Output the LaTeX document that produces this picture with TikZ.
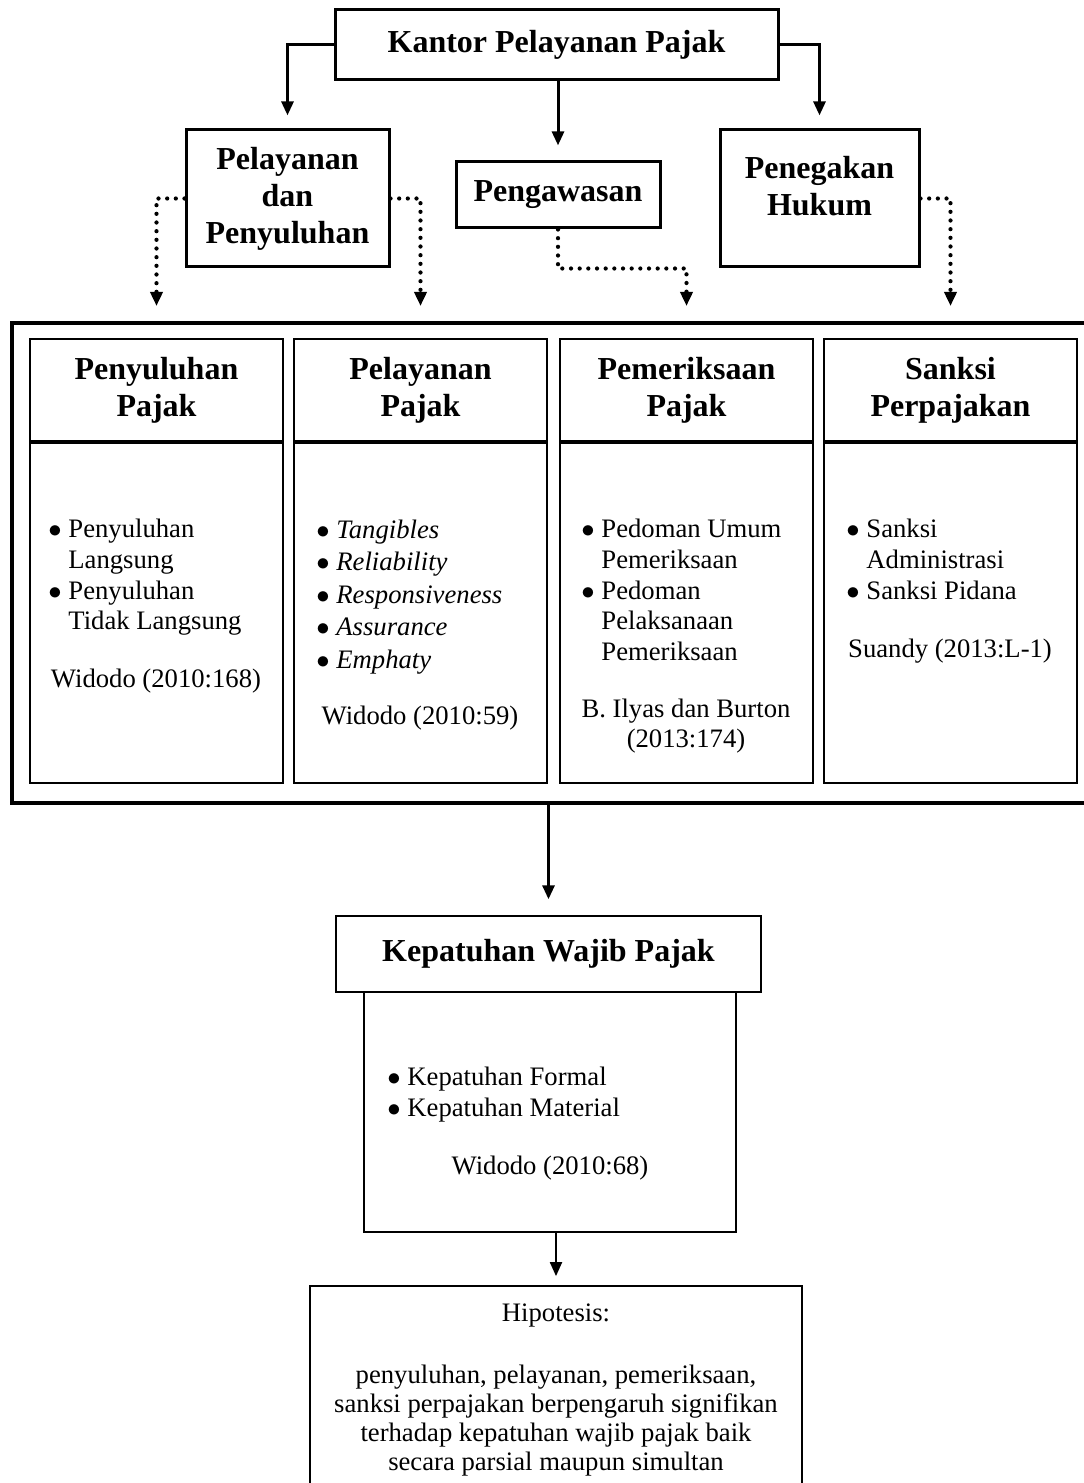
\documentclass[tikz,border=0pt]{standalone}
\usepackage{fontspec}
\setmainfont{Liberation Serif}
\usetikzlibrary{arrows.meta,fit}

\begin{document}
\begin{tikzpicture}[
        x=0.45pt, y=-0.45pt,
        box/.style={draw,inner sep=0pt,line width=1.35pt},
        colbox/.style={draw,inner sep=0pt,line width=0.9pt},
        thinbox/.style={draw,inner sep=0pt,line width=0.65pt},
        head/.style={font=\fontsize{14.4}{16.6}\selectfont\bfseries,align=center},
        body/.style={font=\fontsize{12}{13.8}\selectfont,inner sep=0pt},
        arr/.style={-{Triangle[length=6.3pt,width=5.4pt]},line width=1.35pt},
        dots/.style={arr,line width=1.9pt,dash pattern=on 0pt off 3.9pt,line cap=round}
    ]
    \useasboundingbox (0,0) rectangle (1083,1483);
    \node[box,fit={(335,10) (778,80)}] (kantor) {};
    \node[head] (kantortext) at (kantor.center) {Kantor Pelayanan Pajak};
    \node[box,fit={(186,130) (389,267)}] (pel) {};
    \node[head] (peltext) at (pel.center) {Pelayanan\\dan\\Penyuluhan};
    \node[box,fit={(456,162) (660,228)}] (awas) {};
    \node[head] (awastext) at (awas.center) {Pengawasan};
    \node[box,fit={(720,130) (919,267)}] (hukum) {};
    \node[head] (hukumtext) at (819.5,186) {Penegakan\\Hukum};

    \node[box,line width=1.8pt,fit={(12,323) (1100,803)}] (outer) {};
    \foreach \i/\x/\t in {1/30/{Penyuluhan\\Pajak},2/294/{Pelayanan\\Pajak},3/560/{Pemeriksaan\\Pajak},4/824/{Sanksi\\Perpajakan}}{
        \node[colbox,fit={(\x,339) (\x+253,441)}] (h\i) {};
        \node[head] (t\i) at (h\i.center) {\t};
        \node[colbox,fit={(\x,443) (\x+253,783)}] (b\i) {};
    }
    \node[body,anchor=north west] (l1) at (48,516) {\begin{tabular}{@{}l@{\ }l@{}}$\bullet$&Penyuluhan\\&Langsung\\$\bullet$&Penyuluhan\\&Tidak Langsung\end{tabular}};
    \node[body,anchor=north west] (l2) at (316,515) {\renewcommand{\arraystretch}{1.06}\begin{tabular}{@{}l@{\ }l@{}}$\bullet$&\textit{Tangibles}\\$\bullet$&\textit{Reliability}\\$\bullet$&\textit{Responsiveness}\\$\bullet$&\textit{Assurance}\\$\bullet$&\textit{Emphaty}\end{tabular}};
    \node[body,anchor=north west] (l3) at (581,516) {\begin{tabular}{@{}l@{\ }l@{}}$\bullet$&Pedoman Umum\\&Pemeriksaan\\$\bullet$&Pedoman\\&Pelaksanaan\\&Pemeriksaan\end{tabular}};
    \node[body,anchor=north west] (l4) at (846,516) {\begin{tabular}{@{}l@{\ }l@{}}$\bullet$&Sanksi\\&Administrasi\\$\bullet$&Sanksi Pidana\end{tabular}};
    \node[body] (r1) at (156,681) {Widodo (2010:168)};
    \node[body] (r2) at (420,718) {Widodo (2010:59)};
    \node[body,align=center] (r3) at (686,726) {B. Ilyas dan Burton\\(2013:174)};
    \node[body] (r4) at (950,651) {Suandy (2013:L-1)};

    \node[thinbox,fit={(336,916) (761,992)}] (kephead) {};
    \node[head] (kepheadtext) at (kephead.center) {Kepatuhan Wajib Pajak};
    \node[thinbox,fit={(364,992) (736,1232)}] (kepbody) {};
    \node[body,anchor=north west] (kepitems) at (387,1064) {\begin{tabular}{@{}l@{\ }l@{}}$\bullet$&Kepatuhan Formal\\$\bullet$&Kepatuhan Material\end{tabular}};
    \node[body] (kepref) at (550,1168) {Widodo (2010:68)};

    \node[colbox,fit={(310,1286) (802,1510)}] (hipo) {};
    \node[body,align=center,font=\fontsize{12}{13}\selectfont,anchor=north] (hipotext) at (556,1303) {Hipotesis:\\[15pt]penyuluhan, pelayanan, pemeriksaan,\\sanksi perpajakan berpengaruh signifikan\\terhadap kepatuhan wajib pajak baik\\secara parsial maupun simultan};

    \draw[arr,shorten >=5.9pt] (kantor.west) -| (pel.north);
    \draw[arr,shorten >=5.9pt] (kantor.east) -| (hukum.north);
    \draw[arr,shorten >=6.8pt] (kantor.south -| awas.north) -- (awas.north);
    \draw[dots,shorten >=14.4pt] (pel.west) -| (h1.north);
    \draw[dots,shorten >=14.4pt] (pel.east) -| (h2.north);
    \draw[dots,shorten >=14.4pt] (awas.south) -- ++(0,39) -| (h3.north);
    \draw[dots,shorten >=14.4pt] (hukum.east) -| (h4.north);
    \draw[arr,shorten >=7.2pt] (outer.south -| kephead.north) -- (kephead.north);
    \draw[arr,line width=0.9pt,shorten >=4pt] (kepbody.south -| hipo.north) -- (hipo.north);
\end{tikzpicture}
\end{document}
